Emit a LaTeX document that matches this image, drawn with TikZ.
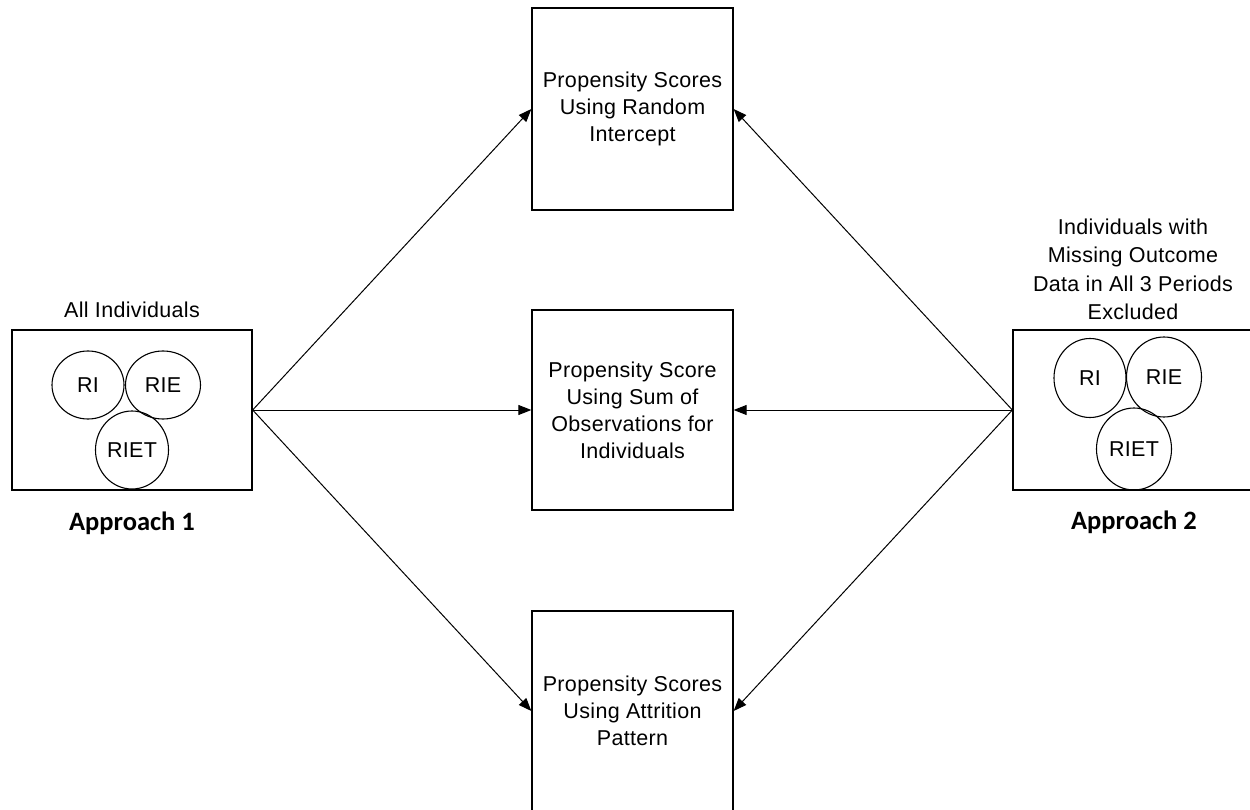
\documentclass[tikz,border=0pt]{standalone}
\usepackage{fontspec}
\setmainfont{Liberation Sans}[LetterSpace=1.5]
\newfontfamily\apfont{Carlito}
\usetikzlibrary{arrows.meta,shapes.geometric}
\begin{document}
\begin{tikzpicture}[x=1pt,y=-1pt,
  txt/.style={font=\fontsize{21.5}{27}\selectfont, align=center, inner sep=0pt},
  pbox/.style={draw, line width=1.3pt, minimum width=201pt, txt},
  gbox/.style={draw, line width=1.3pt, minimum width=240pt, minimum height=160pt},
  ell/.style={draw, ellipse, line width=1.1pt, inner sep=0pt, font=\fontsize{21.5}{24}\selectfont},
  arr/.style={line width=1pt, -{Triangle[length=13pt,width=10pt]}},
  aplbl/.style={font=\apfont\bfseries\fontsize{26.5}{30}\selectfont}]
\useasboundingbox (0,0) rectangle (1250,810);
% method boxes
\node[pbox, minimum height=202pt] (top) at (632.5,109) {Propensity Scores\\Using Random\\Intercept};
\node[pbox, minimum height=200pt] (mid) at (632.5,410) {Propensity Score\\Using Sum of\\Observations for\\Individuals};
\node[pbox, minimum height=200pt] (bot) at (632.5,711) {Propensity Scores\\Using Attrition\\Pattern};
% approach 1
\node[gbox] (A1) at (132,410) {};
\node[ell, minimum width=72pt, minimum height=68pt] (ri1) at (88,385) {RI};
\node[ell, minimum width=75pt, minimum height=68pt] (rie1) at (163,385) {RIE};
\node[ell, minimum width=73pt, minimum height=78pt] (riet1) at (132,450) {RIET};
\node[txt] (lbl1) at (132,310) {All Individuals};
\node[aplbl] (ap1) at (132,523) {Approach 1};
% approach 2
\node[gbox] (A2) at (1133,410) {};
\node[ell, minimum width=72pt, minimum height=79pt] (ri2) at (1090,378) {RI};
\node[ell, minimum width=75pt, minimum height=80pt] (rie2) at (1164,377) {RIE};
\node[ell, minimum width=75pt, minimum height=82pt] (riet2) at (1134,449) {RIET};
\node[txt, font=\fontsize{21.5}{28.5}\selectfont] (lbl2) at (1133,269.5) {Individuals with\\Missing Outcome\\Data in All 3 Periods\\Excluded};
\node[aplbl] (ap2) at (1134,522) {Approach 2};
% arrows
\draw[arr] (A1.east) -- (top.west);
\draw[arr] (A1.east) -- (mid.west);
\draw[arr] (A1.east) -- (bot.west);
\draw[arr] (A2.west) -- (top.east);
\draw[arr] (A2.west) -- (mid.east);
\draw[arr] (A2.west) -- (bot.east);
\end{tikzpicture}
\end{document}
